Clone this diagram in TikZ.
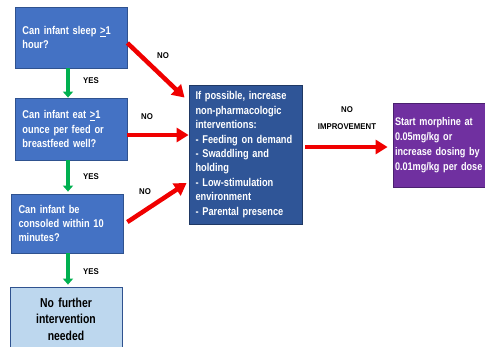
\documentclass[tikz,border=0pt]{standalone}
\usepackage{fontspec}
\setmainfont{Liberation Sans}
\newfontfamily\condA[FakeStretch=0.82]{Liberation Sans}
\newfontfamily\condB[FakeStretch=0.8]{Liberation Sans}
\newfontfamily\condC[FakeStretch=0.93]{Liberation Sans}
\usetikzlibrary{arrows.meta,calc}
\definecolor{qblue}{HTML}{4472C4}
\definecolor{qborder}{HTML}{2F528F}
\definecolor{bigblue}{HTML}{2F5597}
\definecolor{bigborder}{HTML}{1F3864}
\definecolor{mpurple}{HTML}{7030A0}
\definecolor{pborder}{HTML}{4B2070}
\definecolor{lblue}{HTML}{BDD7EE}
\definecolor{gr}{HTML}{00B050}
\definecolor{rd}{HTML}{F00000}
\tikzset{
  qbox/.style={draw=qborder, line width=0.8pt, fill=qblue, text=white, font=\condA\bfseries\fontsize{11.3}{14.4}\selectfont, align=left, minimum width=112pt, text width=97pt, inner sep=7pt, anchor=center},
  bigbox/.style={draw=bigborder, line width=0.8pt, fill=bigblue, text=white, font=\condA\bfseries\fontsize{11.3}{14.4}\selectfont, align=left, minimum width=113pt, minimum height=139pt, text width=100pt, inner sep=6pt},
  pbox/.style={draw=pborder, line width=0.8pt, fill=mpurple, text=white, font=\condA\bfseries\fontsize{11.1}{15}\selectfont, align=left, minimum width=94pt, minimum height=84pt, text width=90pt, inner sep=2pt},
  endbox/.style={draw=qborder, line width=0.8pt, fill=lblue, text=black, font=\condB\bfseries\fontsize{13}{16.5}\selectfont, align=center, minimum width=112pt, minimum height=64pt, text width=100pt},
  garrow/.style={draw=gr, line width=3.5pt, -{Triangle[width=10pt,length=6pt]}},
  rarrow/.style={draw=rd, line width=4.5pt, -{Triangle[width=14pt,length=12pt]}},
  lbl/.style={font=\condC\bfseries\fontsize{8.4}{9}\selectfont, text=black, inner sep=0pt},
}
\begin{document}
\begin{tikzpicture}[x=1pt,y=-1pt]
\useasboundingbox (0,0) rectangle (485,346);
\clip (0,0) rectangle (485,346);
\fill[white] (0,0) rectangle (485,346);
\node[qbox, minimum height=61pt] (b1) at (71,37.5) {Can infant sleep \underline{>}1\\hour?};
\node[qbox, minimum height=62pt] (b2) at (71,129) {Can infant eat \underline{>}1\\ounce per feed or\\breastfeed well?};
\node[qbox, minimum height=59pt] (b3) at (67,223.5) {Can infant be\\consoled within 10\\minutes?};
\node[endbox] (b4) at (66,319) {No further\\intervention\\needed};
\node[bigbox] (bb) at (245.5,154.5) {If possible, increase\\non-pharmacologic\\interventions:\\- Feeding on demand\\- Swaddling and\\holding\\- Low-stimulation\\environment\\- Parental presence};
\node[pbox] (pp) at (440,145) {Start morphine at\\0.05mg/kg or\\increase dosing by\\0.01mg/kg per dose};
% green arrows
\draw[garrow] ([xshift=-3pt]b1.south) -- ([xshift=-3pt]b2.north);
\draw[garrow] ([xshift=-3pt]b2.south) -- ([xshift=1pt,yshift=2pt]b3.north);
\draw[garrow] ([xshift=1pt]b3.south) -- ([xshift=2pt,yshift=2pt]b4.north);
\node[lbl] (y1) at (91,81) {YES};
\node[lbl] (y2) at (91,177) {YES};
\node[lbl] (y3) at (91,272) {YES};
% red arrows
\draw[rarrow] ([yshift=-5.5pt]b1.east) -- ([xshift=-4pt,yshift=-13pt]bb.north west);
\draw[rarrow] ([yshift=-6pt]b2.east) -- ([yshift=-6pt]b2.east -| bb.west);
\draw[rarrow] ([xshift=4pt,yshift=1.5pt]b3.east) -- ([xshift=-2pt,yshift=-28.5pt]bb.west);
\draw[rarrow] ([xshift=3pt,yshift=7.5pt]bb.east) -- ([xshift=-5pt,yshift=-2pt]pp.west);
\node[lbl] (n1) at (163,56) {NO};
\node[lbl] (n2) at (147,117) {NO};
\node[lbl] (n3) at (145,192) {NO};
\node[lbl] (n4) at (347,110) {NO};
\node[lbl] (n5) at (347,127) {IMPROVEMENT};
\end{tikzpicture}
\end{document}
